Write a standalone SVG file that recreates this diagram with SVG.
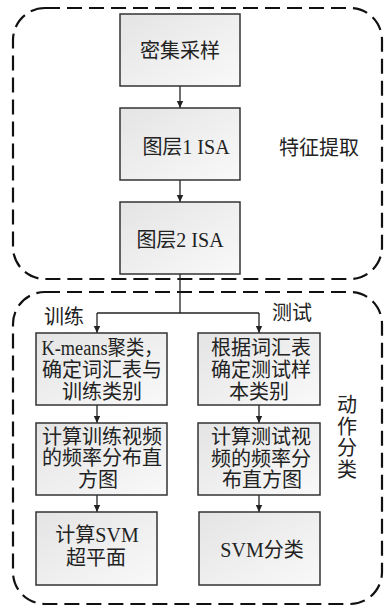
<svg xmlns="http://www.w3.org/2000/svg" width="385" height="607" viewBox="0 0 385 607">
<style>
.bg{fill:#ffffff}
.grp{fill:none;stroke:#111;stroke-width:2.2;stroke-dasharray:15 7}
.box{fill:url(#g);stroke:#333;stroke-width:1.5}
.t{font-family:"Liberation Serif","Noto Sans CJK SC",serif;font-size:20px;fill:#222;text-anchor:middle}
.c{fill:none;stroke:#222;stroke-width:1.3}
</style>
<defs>
<linearGradient id="g" x1="0" y1="0" x2="1" y2="1">
<stop offset="0" stop-color="#e4e4e4"/>
<stop offset="1" stop-color="#f9f9f9"/>
</linearGradient>
<marker id="ah" markerWidth="8" markerHeight="8" refX="7" refY="4" orient="auto" markerUnits="userSpaceOnUse">
<path d="M0,0.8 L7,4 L0,7.2 Z" fill="#222"/>
</marker>
</defs>
<rect class="bg" x="0" y="0" width="385" height="607"/>
<g id="group-feature">
<rect class="grp" x="13" y="8" width="369" height="271" rx="32"/>
<text class="t" x="319" y="155">特征提取</text>
</g>
<g id="group-action">
<rect class="grp" x="13" y="292" width="369" height="312" rx="32"/>
<text class="t" x="347" y="412">动</text>
<text class="t" x="347" y="434">作</text>
<text class="t" x="347" y="455">分</text>
<text class="t" x="347" y="477">类</text>
<text class="t" x="64" y="324">训练</text>
<text class="t" x="292" y="320">测试</text>
</g>
<g id="connectors">
<path class="c" d="M180,86 V108" marker-end="url(#ah)"/>
<path class="c" d="M180,180 V202" marker-end="url(#ah)"/>
<path class="c" d="M180,274 V313"/>
<path class="c" d="M97,313 H259"/>
<path class="c" d="M97,313 V333" marker-end="url(#ah)"/>
<path class="c" d="M259,313 V333" marker-end="url(#ah)"/>
<path class="c" d="M97,405 V423" marker-end="url(#ah)"/>
<path class="c" d="M259,405 V423" marker-end="url(#ah)"/>
<path class="c" d="M97,495 V512" marker-end="url(#ah)"/>
<path class="c" d="M259,495 V512" marker-end="url(#ah)"/>
</g>
<g id="n1">
<rect class="box" x="120" y="14" width="120" height="72"/>
<text class="t" x="180" y="58">密集采样</text>
</g>
<g id="n2">
<rect class="box" x="120" y="108" width="120" height="72"/>
<text class="t" x="186" y="154">图层1 ISA</text>
</g>
<g id="n3">
<rect class="box" x="120" y="202" width="120" height="72"/>
<text class="t" x="180" y="247">图层2 ISA</text>
</g>
<g id="l1">
<rect class="box" x="36" y="333" width="131" height="72"/>
<text class="t" x="102" y="355" textLength="121" lengthAdjust="spacingAndGlyphs">K-means聚类，</text>
<text class="t" x="102" y="377">确定词汇表与</text>
<text class="t" x="102" y="399">训练类别</text>
</g>
<g id="l2">
<rect class="box" x="36" y="423" width="131" height="72"/>
<text class="t" x="102" y="444">计算训练视频</text>
<text class="t" x="102" y="465">的频率分布直</text>
<text class="t" x="98" y="487">方图</text>
</g>
<g id="l3">
<rect class="box" x="36" y="512" width="121" height="73"/>
<text class="t" x="97" y="542">计算SVM</text>
<text class="t" x="96" y="565">超平面</text>
</g>
<g id="r1">
<rect class="box" x="198" y="333" width="122" height="72"/>
<text class="t" x="261" y="355">根据词汇表</text>
<text class="t" x="261" y="377">确定测试样</text>
<text class="t" x="259" y="399">本类别</text>
</g>
<g id="r2">
<rect class="box" x="198" y="423" width="122" height="72"/>
<text class="t" x="261" y="444">计算测试视</text>
<text class="t" x="261" y="466">频的频率分</text>
<text class="t" x="262" y="487">布直方图</text>
</g>
<g id="r3">
<rect class="box" x="199" y="512" width="121" height="73"/>
<text class="t" x="262" y="557">SVM分类</text>
</g>
</svg>
